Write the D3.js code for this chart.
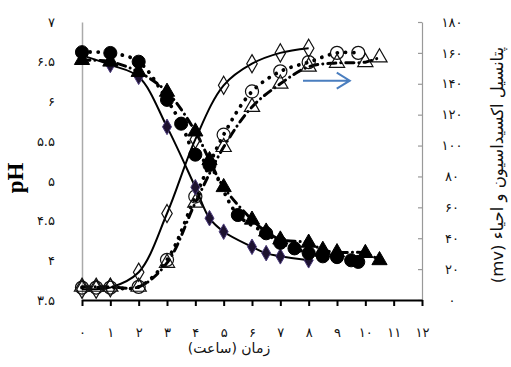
<!DOCTYPE html>
<html>
<head>
<meta charset="utf-8">
<script src="https://cdn.jsdelivr.net/npm/d3@7/dist/d3.min.js"></script>
<style>
  html, body { margin: 0; padding: 0; background: #fff; }
  svg { display: block; }
  text { font-family: "DejaVu Sans", sans-serif; }
</style>
</head>
<body>
<svg id="chart" width="511" height="367"></svg>
<script>
// ---- data (time in hours) ----
const xTicks = [0,1,2,3,4,5,6,7,8,9,10,11,12];
const leftTicks = [3.5,4,4.5,5,5.5,6,6.5,7];
const rightTicks = [0,20,40,60,80,100,120,140,160,180];

// pH series (left axis)
const phDiamondT = [0,1,2,3,4,4.5,5,6,6.5,7,8];
const phDiamondV = [6.58,6.46,6.31,5.68,4.92,4.53,4.36,4.17,4.09,4.05,4.0];

const phCircleT = [0,1,2,3,3.5,4,4.5,5.5,6.5,7,7.5,8,8.5,9,9.5,9.75];
const phCircleV = [6.62,6.61,6.50,6.02,5.72,5.33,5.20,4.57,4.34,4.22,4.15,4.09,4.05,4.04,4.00,3.98];

const phTriT = [0,1,2,3,4,4.5,5,6,6.5,7,8,8.5,9,10,10.5];
const phTriV = [6.52,6.50,6.37,6.12,5.62,5.26,4.92,4.51,4.36,4.26,4.22,4.13,4.10,4.09,4.00];

// ORP series (right axis, mV)
const orpDiamondT = [0,0.5,1,2,3,4,5,6,7,8];
const orpDiamondV = [7,7,8,18,56,104,139,153,160,163];

const orpCircleT = [0,0.5,1,2,3,4,5,6,7,8,9,9.75];
const orpCircleV = [8,8,8,8.5,26,67,107,135,148,154,160,160];

const orpTriT = [0,0.5,1,2,3,4,5,6,7,8,9,10,10.5];
const orpTriV = [8.5,8.5,8.5,8.5,24,63,99,125,140,151,153.5,154,157];

const fa = s => String(s).replace(/[0-9]/g, d => "۰۱۲۳۴۵۶۷۸۹"[+d]);

// ---- scales ----
const svg = d3.select("#chart");
const x = d3.scaleLinear().domain([0,12]).range([82,422]);
const yL = d3.scaleLinear().domain([3.5,7]).range([300,22]);
const yR = d3.scaleLinear().domain([0,180]).range([300,22]);

// ---- axes ----
const gL = svg.append("g").attr("transform","translate(82,0)")
  .call(d3.axisLeft(yL).tickValues(leftTicks).tickSize(0).tickPadding(27).tickFormat(fa));
gL.select(".domain").attr("stroke","#aaa").attr("stroke-width",1.5);
gL.selectAll("text").attr("font-size",13).attr("fill","#111");

const gR = svg.append("g").attr("transform","translate(422,0)")
  .call(d3.axisRight(yR).tickValues(rightTicks).tickSizeInner(-4).tickSizeOuter(0).tickPadding(30).tickFormat(fa));
gR.select(".domain").attr("stroke","#999").attr("stroke-width",1.2);
gR.selectAll(".tick line").attr("stroke","#999").attr("stroke-width",1.2);
gR.selectAll("text").attr("font-size",13).attr("fill","#111").attr("text-anchor","middle");

const gB = svg.append("g").attr("transform","translate(0,300)")
  .call(d3.axisBottom(x).tickValues(xTicks).tickSizeInner(6).tickSizeOuter(0).tickPadding(22).tickFormat(fa));
gB.select(".domain").attr("stroke","#000").attr("stroke-width",2);
gB.selectAll(".tick line").attr("stroke","#000").attr("stroke-width",2);
gB.selectAll("text").attr("font-size",13).attr("fill","#111");

// titles
svg.append("text").attr("x",229).attr("y",353).attr("text-anchor","middle")
  .attr("font-size",14).attr("fill","#111").attr("direction","rtl").text("زمان (ساعت)");
svg.append("text").attr("transform","translate(23,178) rotate(-90)").attr("text-anchor","middle")
  .style("font-family","Liberation Serif, serif")
  .attr("font-weight","bold").attr("font-size",23).attr("fill","#000").text("pH");
svg.append("text").attr("transform","translate(503,165) rotate(-90)").attr("text-anchor","middle")
  .attr("font-size",16.5).attr("fill","#111").attr("direction","rtl")
  .text("پتانسیل اکسیداسیون و احیاء (mv)");

// ---- series ----
function series(T, V, yScale) { return T.map((t,i)=>({t, v:V[i], y:yScale})); }
const lineGen = d3.line().x(d=>x(d.t)).y(d=>d.y(d.v)).curve(d3.curveCatmullRom.alpha(0.5));

const all = [
  {d: series(orpDiamondT, orpDiamondV, yR), style:"solid", mark:"diamond", filled:false},
  {d: series(orpTriT, orpTriV, yR), style:"dashdot", mark:"triangle", filled:false},
  {d: series(orpCircleT, orpCircleV, yR), style:"dot", mark:"circle", filled:false},
  {d: series(phDiamondT, phDiamondV, yL), style:"solid", mark:"diamond", filled:true},
  {d: series(phTriT, phTriV, yL), style:"dashdot", mark:"triangle", filled:true},
  {d: series(phCircleT, phCircleV, yL), style:"dot", mark:"circle", filled:true},
];

const symSize = {diamond: 70, triangle: 100, circle: 135};
const symType = {diamond: d3.symbolDiamond, triangle: d3.symbolTriangle, circle: d3.symbolCircle};

all.forEach(s => {
  const p = svg.append("path").datum(s.d).attr("d", lineGen)
    .attr("fill","none").attr("stroke","#000");
  if (s.style === "solid") p.attr("stroke-width",2);
  if (s.style === "dot") p.attr("stroke-width",3.8).attr("stroke-linecap","round").attr("stroke-dasharray","0.1 8");
  if (s.style === "dashdot") p.attr("stroke-width",3).attr("stroke-linecap","round").attr("stroke-dasharray","8 5 0.1 5");
});

all.forEach(s => {
  const sz = s.mark==="diamond" && !s.filled ? 95 : symSize[s.mark];
  svg.append("g").selectAll("path").data(s.d).join("path")
    .attr("transform", d => `translate(${x(d.t)},${d.y(d.v)})`)
    .attr("d", d3.symbol().type(symType[s.mark]).size(sz))
    .attr("fill", s.filled ? (s.mark==="diamond" ? "#1d1230" : "#000") : "#fff")
    .attr("fill-opacity", s.filled ? 1 : 0)
    .attr("stroke", s.filled ? (s.mark==="diamond" ? "#4a3a7a" : "#000") : "#111")
    .attr("stroke-width", s.filled ? 1 : 1.2);
});

// blue arrow
const arrowPts = [[7.8,142],[9.45,142]];
const ax1 = x(arrowPts[0][0]), ax2 = x(arrowPts[1][0]), ay = yR(arrowPts[0][1]);
svg.append("path").attr("d", `M${ax1},${ay}L${ax2},${ay}M${ax2-13},${ay-8}L${ax2},${ay}L${ax2-13},${ay+8}`)
  .attr("fill","none").attr("stroke","#4a7ebf").attr("stroke-width",2);
</script>
</body>
</html>
